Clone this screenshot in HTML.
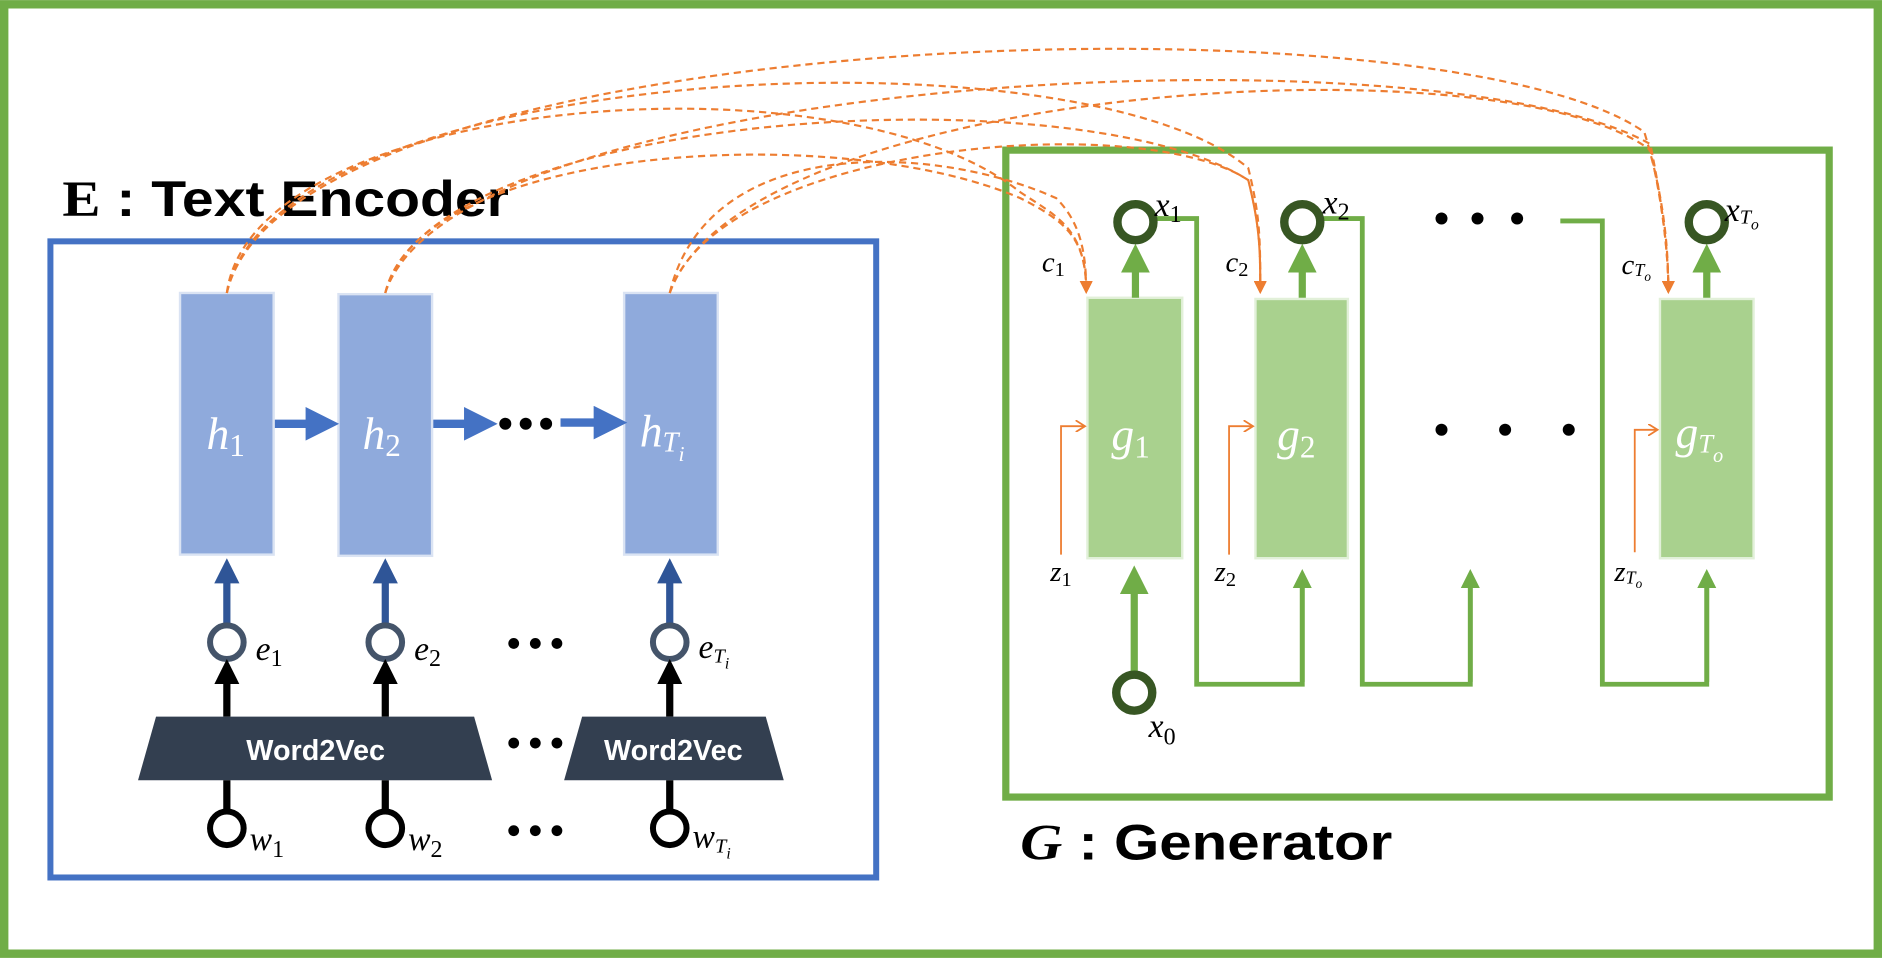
<!DOCTYPE html>
<html><head><meta charset="utf-8"><style>
html,body{margin:0;padding:0;background:#fff;}
svg{display:block;}
.m{font-family:"Liberation Serif",serif;font-style:italic;}
</style></head><body>
<svg width="1882" height="958" viewBox="0 0 1568 798" xmlns="http://www.w3.org/2000/svg">
<defs>
<marker id="ab" markerWidth="4" markerHeight="4" refX="2.2" refY="2" orient="auto"><path d="M0,0L4,2L0,4z" fill="#4472c4"/></marker>
<marker id="an" markerWidth="3.5" markerHeight="3.5" refX="2" refY="1.75" orient="auto"><path d="M0,0L3.5,1.75L0,3.5z" fill="#2f5597"/></marker>
<marker id="ak" markerWidth="3.5" markerHeight="3.5" refX="2" refY="1.75" orient="auto"><path d="M0,0L3.5,1.75L0,3.5z" fill="#000"/></marker>
<marker id="ag" markerWidth="4" markerHeight="4" refX="2" refY="2" orient="auto"><path d="M0,0L4,2L0,4z" fill="#70ad47"/></marker>
<marker id="ao" markerWidth="6" markerHeight="6" refX="5" refY="3" orient="auto"><path d="M0,0L6,3L0,6z" fill="#ed7d31"/></marker>
<marker id="oo" markerWidth="10" markerHeight="10" refX="8" refY="5" orient="auto" markerUnits="userSpaceOnUse"><path d="M0,0L8,5L0,10" fill="none" stroke="#ed7d31" stroke-width="1.5"/></marker>
</defs>
<rect x="3.5" y="3.5" width="1561" height="791" fill="#fff" stroke="#70ad47" stroke-width="7"/>
<text x="52" y="180" font-family="Liberation Sans,sans-serif" font-weight="bold" font-size="42" textLength="372" lengthAdjust="spacingAndGlyphs"><tspan font-family="Liberation Serif,serif">E</tspan> : Text Encoder</text>
<text x="850" y="716" font-family="Liberation Sans,sans-serif" font-weight="bold" font-size="42" textLength="310" lengthAdjust="spacingAndGlyphs"><tspan font-family="Liberation Serif,serif" font-style="italic">G</tspan> : Generator</text>
<rect x="42" y="201" width="688" height="530" fill="none" stroke="#4472c4" stroke-width="5"/>
<rect x="838" y="125" width="686" height="539" fill="none" stroke="#70ad47" stroke-width="6"/>
<g fill="#8faadc" stroke="#dae3f3" stroke-width="2">
<rect x="150" y="244" width="78" height="218"/><rect x="282" y="245" width="78" height="218"/><rect x="520" y="244" width="78" height="218"/></g>
<g fill="#fff" class="m" font-size="38"><text x="172" y="374">h<tspan font-size="26" font-style="normal" dy="6">1</tspan></text>
<text x="302" y="374">h<tspan font-size="26" font-style="normal" dy="6">2</tspan></text>
<text x="533" y="372">h<tspan font-size="24" dy="4">T</tspan><tspan font-size="18" dy="8">i</tspan></text></g>
<g stroke="#4472c4" stroke-width="7" marker-end="url(#ab)"><line x1="229" y1="353" x2="270" y2="353"/><line x1="361" y1="353" x2="402" y2="353"/><line x1="467" y1="352" x2="510" y2="352"/></g>
<g fill="#000"><circle cx="421" cy="353" r="5"/><circle cx="438" cy="353" r="5"/><circle cx="455" cy="353" r="5"/></g>
<g stroke="#2f5597" stroke-width="6" marker-end="url(#an)"><line x1="189" y1="519" x2="189" y2="474"/><line x1="321" y1="519" x2="321" y2="474"/><line x1="558" y1="519" x2="558" y2="474"/></g>
<g fill="#fff" stroke="#44546a" stroke-width="5"><circle cx="189" cy="535" r="14"/><circle cx="321" cy="535" r="14"/><circle cx="558" cy="535" r="14"/></g>
<g class="m" font-size="28"><text x="213" y="550">e<tspan font-size="20" font-style="normal" dy="5">1</tspan></text><text x="345" y="550">e<tspan font-size="20" font-style="normal" dy="5">2</tspan></text><text x="582" y="548">e<tspan font-size="17" dy="4">T</tspan><tspan font-size="13" dy="5">i</tspan></text></g>
<g fill="#000"><circle cx="428" cy="536" r="4.5"/><circle cx="446" cy="536" r="4.5"/><circle cx="464" cy="536" r="4.5"/>
<circle cx="428" cy="619" r="4.5"/><circle cx="446" cy="619" r="4.5"/><circle cx="464" cy="619" r="4.5"/>
<circle cx="428" cy="692" r="4.5"/><circle cx="446" cy="692" r="4.5"/><circle cx="464" cy="692" r="4.5"/></g>
<g stroke="#000" stroke-width="6" marker-end="url(#ak)"><line x1="189" y1="597" x2="189" y2="558"/><line x1="321" y1="597" x2="321" y2="558"/><line x1="558" y1="597" x2="558" y2="558"/></g>
<path d="M130,597H395L410,650H115Z" fill="#333f50"/><path d="M485,597H638L653,650H470Z" fill="#333f50"/>
<g fill="#fff" font-family="Liberation Sans,sans-serif" font-weight="bold" font-size="24" text-anchor="middle"><text x="263" y="633">Word2Vec</text><text x="561" y="633">Word2Vec</text></g>
<g stroke="#000" stroke-width="6"><line x1="189" y1="676" x2="189" y2="650"/><line x1="321" y1="676" x2="321" y2="650"/><line x1="558" y1="676" x2="558" y2="650"/></g>
<g fill="#fff" stroke="#000" stroke-width="5"><circle cx="189" cy="690" r="14"/><circle cx="321" cy="690" r="14"/><circle cx="558" cy="690" r="14"/></g>
<g class="m" font-size="28"><text x="208" y="708">w<tspan font-size="20" font-style="normal" dy="6">1</tspan></text><text x="340" y="708">w<tspan font-size="20" font-style="normal" dy="6">2</tspan></text><text x="577" y="706">w<tspan font-size="17" dy="4">T</tspan><tspan font-size="13" dy="5">i</tspan></text></g>
<g fill="#a9d18e" stroke="#e2f0d9" stroke-width="2"><rect x="906" y="248" width="79" height="217"/><rect x="1046" y="249" width="77" height="216"/><rect x="1383" y="249" width="78" height="216"/></g>
<g fill="#fff" class="m" font-size="38"><text x="926" y="375">g<tspan font-size="26" font-style="normal" dy="6">1</tspan></text><text x="1064" y="375">g<tspan font-size="26" font-style="normal" dy="6">2</tspan></text><text x="1396" y="373">g<tspan font-size="22" dy="4">T</tspan><tspan font-size="17" dy="8">o</tspan></text></g>
<g fill="none" stroke="#70ad47" stroke-width="4"><path d="M962,182H997V570H1085V478"/><path d="M1100,182H1135V570H1225V478"/><path d="M1300,184H1335V570H1422V478"/></g>
<g stroke="#70ad47" stroke-width="4" marker-end="url(#ag)"><line x1="1085" y1="568" x2="1085" y2="482"/><line x1="1225" y1="568" x2="1225" y2="482"/><line x1="1422" y1="568" x2="1422" y2="482"/></g>
<line x1="945" y1="560" x2="945" y2="483" stroke="#70ad47" stroke-width="6" marker-end="url(#ag)"/>
<g stroke="#70ad47" stroke-width="6" marker-end="url(#ag)"><line x1="946" y1="248" x2="946" y2="215"/><line x1="1085" y1="248" x2="1085" y2="215"/><line x1="1422" y1="248" x2="1422" y2="215"/></g>
<g fill="#fff" stroke="#375623" stroke-width="7"><circle cx="946" cy="185" r="15"/><circle cx="1085" cy="185" r="15"/><circle cx="1422" cy="185" r="15"/><circle cx="945" cy="577" r="15"/></g>
<g class="m" font-size="28"><text x="962" y="180">x<tspan font-size="20" font-style="normal" dy="5">1</tspan></text><text x="1102" y="178">x<tspan font-size="20" font-style="normal" dy="5">2</tspan></text><text x="1437" y="184">x<tspan font-size="17" dy="2">T</tspan><tspan font-size="13" dy="5">o</tspan></text><text x="957" y="614">x<tspan font-size="20" font-style="normal" dy="6">0</tspan></text>
<text x="868" y="226" font-size="24">c<tspan font-size="17" font-style="normal" dy="4">1</tspan></text><text x="1021" y="226" font-size="24">c<tspan font-size="17" font-style="normal" dy="4">2</tspan></text><text x="1351" y="228" font-size="24">c<tspan font-size="15" dy="2">T</tspan><tspan font-size="11" dy="4">o</tspan></text>
<text x="875" y="484" font-size="24">z<tspan font-size="17" font-style="normal" dy="4">1</tspan></text><text x="1012" y="484" font-size="24">z<tspan font-size="17" font-style="normal" dy="4">2</tspan></text><text x="1345" y="484" font-size="24">z<tspan font-size="15" dy="2">T</tspan><tspan font-size="11" dy="4">o</tspan></text></g>
<g fill="#000"><circle cx="1201" cy="182" r="5"/><circle cx="1231" cy="182" r="5"/><circle cx="1264" cy="182" r="5"/>
<circle cx="1201" cy="358" r="5"/><circle cx="1254" cy="358" r="5"/><circle cx="1307" cy="358" r="5"/></g>
<g fill="none" stroke="#ed7d31" stroke-width="1.5" marker-end="url(#oo)"><path d="M884,462V355H904"/><path d="M1024,462V355H1044"/><path d="M1362,460V358H1381"/></g>
<g fill="none" stroke="#ed7d31" stroke-width="1.8" stroke-dasharray="6,4" marker-end="url(#ao)">
<path d="M189,244C210,80 700,40 850,160C880,180 905,190 905,243"/>
<path d="M189,244C230,50 900,20 1040,140C1050,180 1050,200 1050,243"/>
<path d="M189,244C240,20 1200,-10 1370,110C1385,160 1390,200 1390,243"/>
<path d="M321,244C350,120 700,100 850,165C890,185 905,200 905,243"/>
<path d="M321,244C360,90 900,60 1040,150C1050,190 1050,210 1050,243"/>
<path d="M321,244C380,60 1200,20 1375,120C1385,170 1390,210 1390,243"/>
<path d="M558,244C590,110 780,120 880,165C900,185 905,210 905,243"/>
<path d="M558,244C600,120 950,90 1040,150C1050,190 1050,210 1050,243"/>
<path d="M558,244C620,70 1250,30 1375,125C1385,170 1390,210 1390,243"/>
</g>
</svg>
</body></html>
